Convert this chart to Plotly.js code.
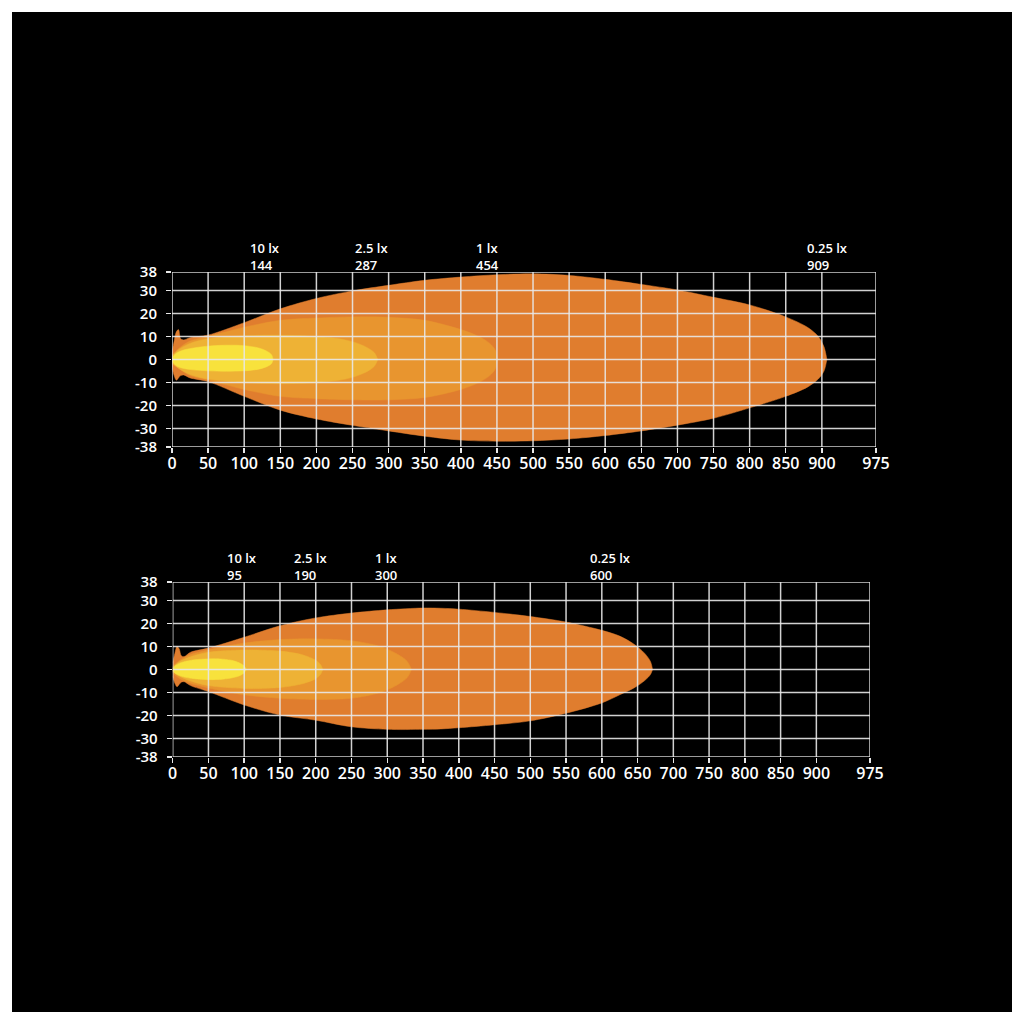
<!DOCTYPE html>
<html>
<head>
<meta charset="utf-8">
<script src="https://cdn.plot.ly/plotly-3.0.1.min.js"></script>
<style>
  html, body { margin: 0; padding: 0; background: #ffffff; width: 1024px; height: 1024px; overflow: hidden; }
  #chart { position: absolute; left: 12px; top: 12px; width: 1000px; height: 1000px; }
</style>
</head>
<body>
<div id="chart"></div>
<script>
// ---- tick values ----
const X_TICKS = [0, 50, 100, 150, 200, 250, 300, 350, 400, 450, 500, 550, 600, 650, 700, 750, 800, 850, 900, 975];
const Y_TICKS = [-38, -30, -20, -10, 0, 10, 20, 30, 38];

// ---- labels above each chart ----
const LUX_LABELS = ["10 lx", "2.5 lx", "1 lx", "0.25 lx"];
const TOP_DISTANCES = [144, 287, 454, 909];
const BOTTOM_DISTANCES = [95, 190, 300, 600];

// ---- top chart beam contours ----
const top025_x  = [0, 3, 6, 9, 12, 16, 25, 50, 100, 150, 200, 250, 300, 350, 400, 450, 500, 550, 600, 650, 700, 750, 800, 850, 880, 895, 903, 907];
const top025_up = [3, 8, 12, 13, 9, 8.5, 9.5, 10.6, 16, 22, 26.5, 29.8, 32.2, 34.4, 35.8, 36.8, 37.2, 36.5, 34.8, 32.6, 30.2, 27, 23.7, 18.5, 14, 10, 5.5, 0];
const top025_lo = [-3, -7, -9, -8, -7, -6.7, -8, -9.6, -16, -22, -25.8, -28.6, -31, -33.3, -35, -35.5, -35.3, -34.5, -33, -31, -28.5, -25.5, -21, -16, -12, -8.5, -5, 0];

const top1_x  = [0, 10, 25, 50, 75, 100, 150, 200, 250, 300, 350, 400, 425, 440, 448, 451];
const top1_up = [2, 5, 8, 10, 12, 14, 17, 18, 18.5, 18.3, 17, 13, 10, 7, 4, 0];
const top1_lo = [-2, -4, -7, -9, -11, -13, -16, -17, -17.5, -17.5, -16.5, -13, -10, -7, -4, 0];

const top25_x  = [0, 10, 25, 50, 100, 150, 200, 240, 265, 280, 285];
const top25_up = [1.5, 4.5, 7, 9, 10.3, 10.5, 10, 8.5, 6, 3, 0];
const top25_lo = [-1.5, -4, -6.5, -8.5, -10, -10.5, -10, -8.5, -6, -3, 0];

const top10_x  = [0, 5, 15, 30, 50, 75, 100, 120, 132, 138, 140];
const top10_up = [0.5, 2.5, 4, 5, 5.8, 6.2, 6, 5, 3.5, 2, 0];
const top10_lo = [-0.5, -2.5, -3.8, -4.5, -4.9, -5.1, -4.9, -4.2, -3, -1.7, 0];

// ---- bottom chart beam contours ----
const bot025_x  = [0, 3, 6, 9, 12, 16, 25, 50, 100, 150, 200, 250, 300, 350, 375, 400, 450, 500, 550, 600, 625, 645, 660, 668, 671];
const bot025_up = [3, 7, 10, 9, 6, 5.6, 7.5, 9.3, 14, 19, 22.4, 24.5, 25.9, 26.7, 26.6, 26.2, 24.8, 23, 20.6, 17, 14.5, 11, 7, 3.5, 0];
const bot025_lo = [-3, -6, -7.5, -6.5, -5.5, -5.3, -7, -9.6, -15.4, -19.8, -22, -24.9, -26, -26, -25.8, -25.3, -24, -22.3, -19, -14.5, -11, -8, -4.8, -2.2, 0];

const bot1_x  = [0, 10, 25, 50, 100, 150, 200, 250, 290, 315, 328, 334];
const bot1_up = [1.5, 4, 6.5, 8.5, 11.5, 13, 13.3, 12.5, 10, 6.5, 3.5, 0];
const bot1_lo = [-1.5, -4, -6, -8, -11, -12.5, -13, -12.5, -10, -6.5, -3.5, 0];

const bot25_x  = [0, 10, 25, 50, 100, 150, 180, 200, 207, 210];
const bot25_up = [1, 3.5, 5.5, 7.5, 8.5, 8, 6.5, 4, 2, 0];
const bot25_lo = [-1, -3, -5, -7, -8.2, -7.8, -6.3, -4, -2, 0];

const bot10_x  = [0, 5, 15, 30, 50, 70, 85, 95, 100, 103];
const bot10_up = [0.5, 2, 3.3, 4.2, 4.6, 4.5, 3.8, 2.6, 1.5, 0];
const bot10_lo = [-0.5, -2, -3.2, -4, -4.4, -4.2, -3.5, -2.5, -1.4, 0];

// ---- colours ----
const COL_025 = "#e07d2e";
const COL_1   = "#e8952f";
const COL_25  = "#eeb235";
const COL_10  = "#f8e23c";

function beam(xs, up, lo, color, xa, ya) {
  const rx = xs.slice().reverse();
  const rl = lo.slice().reverse();
  return {
    type: "scatter", mode: "lines",
    x: xs.concat(rx), y: up.concat(rl),
    fill: "toself", fillcolor: color,
    line: { width: 0.5, color: color, shape: "spline", smoothing: 0.9 },
    xaxis: xa, yaxis: ya, hoverinfo: "skip", showlegend: false
  };
}

const traces = [
  beam(top025_x, top025_up, top025_lo, COL_025, "x", "y"),
  beam(top1_x, top1_up, top1_lo, COL_1, "x", "y"),
  beam(top25_x, top25_up, top25_lo, COL_25, "x", "y"),
  beam(top10_x, top10_up, top10_lo, COL_10, "x", "y"),
  beam(bot025_x, bot025_up, bot025_lo, COL_025, "x2", "y2"),
  beam(bot1_x, bot1_up, bot1_lo, COL_1, "x2", "y2"),
  beam(bot25_x, bot25_up, bot25_lo, COL_25, "x2", "y2"),
  beam(bot10_x, bot10_up, bot10_lo, COL_10, "x2", "y2")
];

// grid drawn above the fills
const GRID_COLOR = "rgba(232,232,232,0.9)";
function grid(xref, yref) {
  const out = [];
  const xmin = X_TICKS[0], xmax = X_TICKS[X_TICKS.length - 1];
  const ymin = Y_TICKS[0], ymax = Y_TICKS[Y_TICKS.length - 1];
  X_TICKS.forEach(v => out.push({ type: "line", layer: "above", xref: xref, yref: yref,
    x0: v, x1: v, y0: ymin, y1: ymax, line: { color: GRID_COLOR, width: 1.5 } }));
  Y_TICKS.forEach(v => out.push({ type: "line", layer: "above", xref: xref, yref: yref,
    x0: xmin, x1: xmax, y0: v, y1: v, line: { color: GRID_COLOR, width: 1.5 } }));
  return out;
}

const FONT = "Open Sans, Roboto, sans-serif";
function labels(xref, yref, dists, yshift, xshifts) {
  return dists.map((d, i) => ({
    xref: xref, yref: yref, x: d, y: 38, xanchor: "center", yanchor: "bottom",
    yshift: yshift, xshift: xshifts[i], showarrow: false, align: "left",
    text: LUX_LABELS[i] + "<br>" + String(d),
    font: { family: FONT, size: 13, color: "#ffffff", weight: 600 }
  }));
}

function xaxisCfg(domain, anchor) {
  return {
    domain: domain, anchor: anchor, range: [0, 975], fixedrange: true,
    tickmode: "array", tickvals: X_TICKS, ticktext: X_TICKS.map(String),
    showgrid: false, zeroline: false, showline: false,
    ticks: "outside", ticklen: 5, tickwidth: 1.5, tickcolor: "#e8e8e8",
    tickfont: { family: FONT, size: 16, color: "#ffffff", weight: 600 },
    ticklabelstandoff: -3,
    layer: "above traces"
  };
}
function yaxisCfg(domain, anchor) {
  return {
    domain: domain, anchor: anchor, range: [-38, 38], fixedrange: true,
    tickmode: "array", tickvals: Y_TICKS, ticktext: Y_TICKS.map(String),
    showgrid: false, zeroline: false, showline: false,
    ticks: "outside", ticklen: 5, tickwidth: 1.5, tickcolor: "#e8e8e8",
    tickfont: { family: FONT, size: 15, color: "#ffffff", weight: 600 },
    ticklabelstandoff: 6,
    layer: "above traces"
  };
}

const layout = {
  width: 1000, height: 1000,
  paper_bgcolor: "#000000", plot_bgcolor: "#000000",
  margin: { l: 0, r: 0, t: 0, b: 0 },
  showlegend: false,
  xaxis: xaxisCfg([0.160, 0.864], "y"),
  yaxis: yaxisCfg([0.565, 0.740], "x"),
  xaxis2: xaxisCfg([0.1607, 0.858], "y2"),
  yaxis2: yaxisCfg([0.255, 0.430], "x2"),
  shapes: grid("x", "y").concat(grid("x2", "y2")),
  annotations: labels("x", "y", TOP_DISTANCES, -4, [-11, -8, -12, -1])
    .concat(labels("x2", "y2", BOTTOM_DISTANCES, -4, [1, 2, -1, 9]))
};

Plotly.newPlot("chart", traces, layout, { staticPlot: true, displayModeBar: false });
</script>
</body>
</html>
